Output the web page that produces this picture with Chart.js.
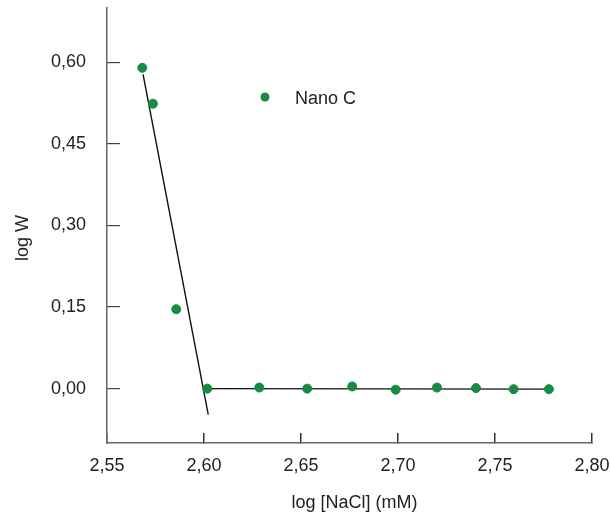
<!DOCTYPE html>
<html>
<head>
<meta charset="utf-8">
<script src="https://cdn.jsdelivr.net/npm/chart.js@4"></script>
<style>
  html, body { margin: 0; padding: 0; background: #fff; }
  #wrap { width: 610px; height: 516px; }
</style>
</head>
<body>
<div id="wrap"><canvas id="myChart" width="610" height="516"></canvas></div>
<script>
// measured points (log [NaCl], log W)
const logNaCl = [2.5682, 2.5737, 2.5857, 2.6017, 2.6285, 2.6532, 2.6764, 2.6988, 2.7201, 2.7402, 2.7596, 2.7778];
const logW = [0.590, 0.524, 0.146, 0.000, 0.002, 0.000, 0.004, -0.002, 0.002, 0.001, -0.001, -0.001];

// fitted lines (end points)
const steepX = [2.5686, 2.6022];
const steepY = [0.578, -0.048];
const flatX = [2.6017, 2.7778];
const flatY = [0.000, -0.001];

const xTicks = [2.55, 2.60, 2.65, 2.70, 2.75, 2.80];
const yTicks = [0.00, 0.15, 0.30, 0.45, 0.60];

const green = '#178a43';
const fontFamily = "'Liberation Sans', Arial, sans-serif";
const fmt = v => v.toFixed(2).replace('.', ',');

const ctx = document.getElementById('myChart').getContext('2d');

// no extra room for edge labels, the layout is fixed
const noPad = s => { s.paddingTop = 0; s.paddingBottom = 0; s.paddingLeft = 0; s.paddingRight = 0; };

const legendBox = {
    id: 'legendBox',
    afterDraw(chart) {
        const c = chart.ctx;
        const ds = chart.data.datasets[0];
        c.save();
        c.fillStyle = green;
        c.beginPath();
        c.arc(265, 97, 4.5, 0, Math.PI * 2);
        c.fill();
        c.fillStyle = '#222';
        c.font = '18px ' + fontFamily;
        c.textBaseline = 'middle';
        c.fillText(ds.label, 295, 99);
        c.restore();
    }
};

const myChart = new Chart(ctx, {
    type: 'scatter',
    data: {
        datasets: [
            {
                label: 'Nano C',
                data: logNaCl.map((x, i) => ({ x: x, y: logW[i] })),
                backgroundColor: green,
                borderColor: green,
                pointRadius: 4.5,
                pointHoverRadius: 4.5,
                order: 0
            },
            {
                type: 'line',
                label: 'fit1',
                data: steepX.map((x, i) => ({ x: x, y: steepY[i] })),
                borderColor: '#111',
                borderWidth: 1.4,
                pointRadius: 0,
                showLine: true,
                order: 1
            },
            {
                type: 'line',
                label: 'fit2',
                data: flatX.map((x, i) => ({ x: x, y: flatY[i] })),
                borderColor: '#111',
                borderWidth: 1.4,
                pointRadius: 0,
                showLine: true,
                order: 1
            }
        ]
    },
    options: {
        responsive: false,
        animation: false,
        layout: { padding: { top: 8, right: 18, left: 0, bottom: 0 } },
        plugins: {
            legend: { display: false },
            tooltip: { enabled: false }
        },
        scales: {
            x: {
                type: 'linear',
                min: 2.55, max: 2.80,
                afterBuildTicks: s => { s.ticks = xTicks.map(v => ({ value: v })); },
                afterFit: s => { s.height = 73; noPad(s); },
                grid: { drawOnChartArea: false, drawTicks: true, tickLength: -10, tickColor: '#333', lineWidth: 1.5 },
                border: { display: true, color: '#666', width: 1.5 },
                ticks: { padding: 22, color: '#222', font: { family: fontFamily, size: 18 }, callback: v => fmt(v), maxRotation: 0 },
                // leading spaces nudge the title a bit right like the original
                title: { display: true, text: '\u00a0\u00a0log [NaCl] (mM)', color: '#222', font: { family: fontFamily, size: 18 }, padding: { top: 0, bottom: 2 } }
            },
            y: {
                type: 'linear',
                min: -0.10, max: 0.70,
                afterBuildTicks: s => { s.ticks = yTicks.map(v => ({ value: v })); },
                afterFit: s => { s.width = 107; noPad(s); },
                grid: { drawOnChartArea: false, drawTicks: true, tickLength: -13, tickColor: '#444', lineWidth: 1.2 },
                border: { display: true, color: '#666', width: 1.5 },
                ticks: { padding: 34, color: '#222', font: { family: fontFamily, size: 18 }, callback: v => fmt(v) },
                title: { display: true, text: 'log W\u00a0\u00a0\u00a0\u00a0\u00a0', color: '#222', font: { family: fontFamily, size: 18 }, padding: { top: 12, bottom: 0 } }
            }
        }
    },
    plugins: [legendBox]
});
</script>
</body>
</html>
